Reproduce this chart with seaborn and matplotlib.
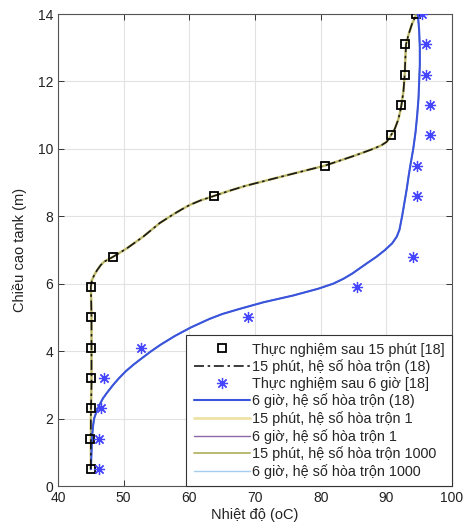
import matplotlib
matplotlib.use("Agg")
import matplotlib.pyplot as plt
import seaborn as sns

# ---- data ----
h_exp = [0.5, 1.4, 2.3, 3.2, 4.1, 5.0, 5.9, 6.8, 8.6, 9.5, 10.4, 11.3, 12.2, 13.1, 14.0]
t_exp_15min = [45.0, 44.8, 45.0, 45.1, 45.1, 45.1, 45.0, 48.4, 63.7, 80.6, 90.7, 92.3, 92.8, 92.9, 94.5]
t_exp_6h = [46.3, 46.3, 46.6, 47.0, 52.6, 69.0, 85.6, 94.1, 94.6, 94.7, 96.7, 96.6, 96.1, 96.0, 95.5]

h_m15 = [0.5, 1.0, 2.0, 3.0, 4.0, 5.0, 5.6, 5.9, 6.1, 6.25, 6.4, 6.55, 6.65, 6.8, 7.05, 7.4,
         7.8, 8.05, 8.2, 8.34, 8.47, 8.6, 8.75, 8.9, 9.2, 9.5, 9.8, 10.0, 10.1, 10.2, 10.3,
         10.4, 10.6, 10.86, 11.1, 11.3, 11.7, 12.2, 12.7, 13.1, 13.4, 13.7, 14.0]
t_m15_18 = [45.0, 45.0, 45.0, 45.1, 45.1, 45.1, 45.05, 45.0, 45.15, 45.5, 45.95, 46.5, 47.0,
            48.4, 50.5, 53.0, 55.5, 57.5, 58.8, 60.1, 61.7, 63.7, 66.0, 68.5, 74.5, 80.6, 85.2,
            88.0, 89.2, 90.0, 90.4, 90.7, 91.3, 91.8, 92.1, 92.3, 92.6, 92.8, 92.9, 93.0, 93.4,
            93.9, 94.6]
t_m15_1 = [45.0, 45.0, 45.0, 45.1, 45.1, 45.1, 45.05, 45.0, 45.15, 45.5, 45.95, 46.5, 47.0,
           48.4, 50.5, 53.0, 55.5, 57.5, 58.8, 60.1, 61.7, 63.7, 66.0, 68.5, 74.5, 80.6, 85.2,
           88.0, 89.2, 90.0, 90.4, 90.7, 91.3, 91.8, 92.1, 92.3, 92.6, 92.8, 92.9, 93.0, 93.4,
           93.9, 94.6]
t_m15_1000 = [45.0, 45.0, 45.0, 45.1, 45.1, 45.1, 45.05, 45.0, 45.15, 45.5, 45.95, 46.5, 47.0,
              48.4, 50.5, 53.0, 55.5, 57.5, 58.8, 60.1, 61.7, 63.7, 66.0, 68.5, 74.5, 80.6, 85.2,
              88.0, 89.2, 90.0, 90.4, 90.7, 91.3, 91.8, 92.1, 92.3, 92.6, 92.8, 92.9, 93.0, 93.4,
              93.9, 94.6]

h_m6 = [0.5, 1.0, 1.5, 1.8, 2.0, 2.2, 2.4, 2.6, 2.75, 3.0, 3.2, 3.4, 3.6, 3.75, 4.0, 4.2,
        4.45, 4.7, 4.95, 5.1, 5.25, 5.45, 5.65, 5.85, 6.0, 6.15, 6.3, 6.45, 6.6, 6.8, 7.0,
        7.2, 7.4, 7.6, 7.8, 8.0, 8.4, 8.8, 9.2, 9.5, 10.0, 10.5, 11.0, 11.5, 12.0, 12.5, 13.0,
        13.5, 14.0]
t_m6_18 = [45.0, 45.1, 45.2, 45.35, 45.5, 45.85, 46.3, 46.85, 47.4, 48.4, 49.3, 50.3, 51.5,
           52.5, 54.2, 55.7, 57.8, 60.2, 63.0, 65.0, 67.6, 71.3, 75.8, 79.6, 81.9, 83.5, 84.8,
           85.9, 87.0, 88.5, 89.8, 90.9, 91.6, 92.0, 92.2, 92.4, 92.75, 93.1, 93.4, 93.65, 94.1,
           94.45, 94.7, 94.9, 95.0, 95.1, 95.1, 95.0, 94.8]
t_m6_1 = [45.0, 45.1, 45.2, 45.35, 45.5, 45.85, 46.3, 46.85, 47.4, 48.4, 49.3, 50.3, 51.5,
          52.5, 54.2, 55.7, 57.8, 60.2, 63.0, 65.0, 67.6, 71.3, 75.8, 79.6, 81.9, 83.5, 84.8,
          85.9, 87.0, 88.5, 89.8, 90.9, 91.6, 92.0, 92.2, 92.4, 92.75, 93.1, 93.4, 93.65, 94.1,
          94.45, 94.7, 94.9, 95.0, 95.1, 95.1, 95.0, 94.8]
t_m6_1000 = [45.0, 45.1, 45.2, 45.35, 45.5, 45.85, 46.3, 46.85, 47.4, 48.4, 49.3, 50.3, 51.5,
             52.5, 54.2, 55.7, 57.8, 60.2, 63.0, 65.0, 67.6, 71.3, 75.8, 79.6, 81.9, 83.5, 84.8,
             85.9, 87.0, 88.5, 89.8, 90.9, 91.6, 92.0, 92.2, 92.4, 92.75, 93.1, 93.4, 93.65, 94.1,
             94.45, 94.7, 94.9, 95.0, 95.1, 95.1, 95.0, 94.8]

labels = ["Thực nghiệm sau 15 phút [18]",
          "15 phút, hệ số hòa trộn (18)",
          "Thực nghiệm sau 6 giờ [18]",
          "6 giờ, hệ số hòa trộn (18)",
          "15 phút, hệ số hòa trộn 1",
          "6 giờ, hệ số hòa trộn 1",
          "15 phút, hệ số hòa trộn 1000",
          "6 giờ, hệ số hòa trộn 1000"]
x_ticks = [40, 50, 60, 70, 80, 90, 100]
y_ticks = [0, 2, 4, 6, 8, 10, 12, 14]

# ---- style ----
sns.set_style("ticks")
plt.rcParams["font.family"] = ["Liberation Sans", "DejaVu Sans"]
plt.rcParams["font.size"] = 10

fig = plt.figure(figsize=(4.65, 5.31), dpi=100)
ax = fig.add_axes([58 / 465, 45 / 531, 394 / 465, 472 / 531])

common = dict(sort=False, estimator=None, ax=ax, legend=False)

sns.lineplot(x=t_exp_15min, y=h_exp, marker="s", linestyle="none", color="black",
             markerfacecolor="none", markeredgecolor="black", markeredgewidth=1.3,
             markersize=6, zorder=6, label=labels[0], **common)
sns.lineplot(x=t_m15_18, y=h_m15, color="#1a1a1a", lw=1.2,
             linestyle=(0, (6, 2.2, 1.5, 2.2)), zorder=5, label=labels[1], **common)
sns.lineplot(x=t_exp_6h, y=h_exp, marker=(8, 2, 0), linestyle="none", color="#4545ff",
             markeredgecolor="#4545ff", markeredgewidth=0.9, markersize=8,
             zorder=6, label=labels[2], **common)
sns.lineplot(x=t_m6_18, y=h_m6, color="#3a55dc", lw=1.5, zorder=4, label=labels[3], **common)
sns.lineplot(x=t_m15_1, y=h_m15, color="#eee2a6", lw=2.0, zorder=2, label=labels[4], **common)
sns.lineplot(x=t_m6_1, y=h_m6, color="#8c6aa8", lw=1.0, zorder=2, label=labels[5], **common)
sns.lineplot(x=t_m15_1000, y=h_m15, color="#b4b468", lw=1.3, zorder=3, label=labels[6], **common)
sns.lineplot(x=t_m6_1000, y=h_m6, color="#a6cdf0", lw=1.0, zorder=3, label=labels[7], **common)

ax.set_xlim(40, 100)
ax.set_ylim(0, 14)
ax.set_xticks(x_ticks)
ax.set_yticks(y_ticks)
ax.grid(True, color="#e2e2e2", lw=0.8)
ax.set_axisbelow(True)
ax.tick_params(direction="in", length=4, width=0.7, colors="#333333",
               top=True, right=True, labelsize=10, labelcolor="#222222")
for s in ax.spines.values():
    s.set_color("#555555")
    s.set_linewidth(0.8)

ax.set_xlabel("Nhiệt độ (oC)", fontsize=10.5, color="#222222", labelpad=2)
ax.set_ylabel("Chiều cao tank (m)", fontsize=10.5, color="#222222", labelpad=8)

handles, labs = ax.get_legend_handles_labels()
order = [labs.index(l) for l in labels]
leg = ax.legend([handles[i] for i in order], [labs[i] for i in order],
                loc="lower right", borderaxespad=0.0, fontsize=10.4,
                handlelength=3.9, handletextpad=0.15, labelspacing=0.19,
                borderpad=0.5, fancybox=False, framealpha=1, edgecolor="#333333")
leg.get_frame().set_linewidth(0.8)
leg.set_zorder(10)

fig.savefig("out.png", dpi=100)
